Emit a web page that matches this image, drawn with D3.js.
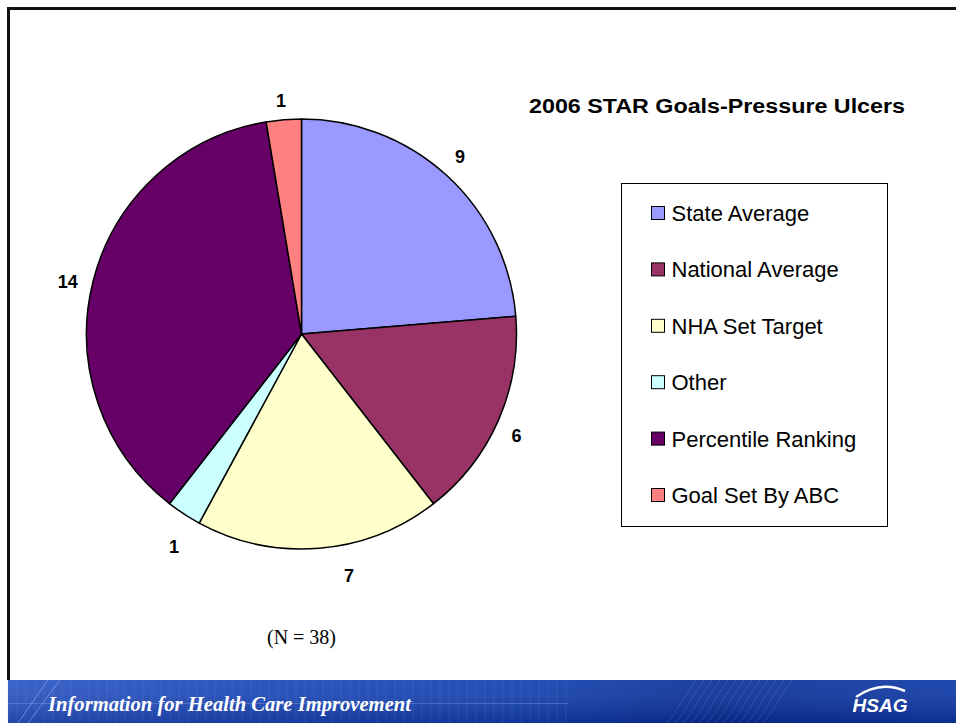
<!DOCTYPE html>
<html>
<head>
<meta charset="utf-8">
<script src="https://cdn.jsdelivr.net/npm/d3@7"></script>
<style>
  body { margin: 0; background: #fff; }
  svg { display: block; }
</style>
</head>
<body>
<svg id="chart" width="956" height="723"></svg>
<script>
const categories = ['State Average', 'National Average', 'NHA Set Target', 'Other', 'Percentile Ranking', 'Goal Set By ABC'];
const counts = [9, 6, 7, 1, 14, 1];
const colors = ['#9999ff', '#993366', '#ffffcc', '#ccffff', '#660066', '#ff8080'];
const title = '2006 STAR Goals-Pressure Ulcers';
const note = '(N = 38)';
const bannerText = 'Information for Health Care Improvement';

const W = 956;
const H = 723;
const cx = 301.5;
const cy = 334;
const radius = 215;

// small hand tweaks so labels land where the slide put them
const labelNudge = [[-2, -3], [-2, 6], [28, 6], [2, 14], [-4, 6], [-1, 3]];

const svg = d3.select('#chart');

// slide frame (left + top edges)
svg.append('path')
  .attr('d', `M8.5,680 L8.5,8.5 L${W},8.5`)
  .attr('fill', 'none')
  .attr('stroke', '#111')
  .attr('stroke-width', 3);

const data = categories.map((c, i) => ({ name: c, value: counts[i], color: colors[i] }));

const pie = d3.pie().sort(null).value(d => d.value);
const arc = d3.arc().innerRadius(0).outerRadius(radius);
const arcs = pie(data);

const g = svg.append('g').attr('transform', `translate(${cx},${cy})`);

g.selectAll('path.slice')
  .data(arcs)
  .enter()
  .append('path')
  .attr('class', 'slice')
  .attr('d', arc)
  .attr('fill', d => d.data.color)
  .attr('stroke', '#000')
  .attr('stroke-width', 1.5)
  .attr('stroke-linejoin', 'round');

// value labels sit just outside the rim
const labelArc = d3.arc().innerRadius(237).outerRadius(237);
g.selectAll('text.val')
  .data(arcs)
  .enter()
  .append('text')
  .attr('class', 'val')
  .attr('x', (d, i) => labelArc.centroid(d)[0] + labelNudge[i][0])
  .attr('y', (d, i) => labelArc.centroid(d)[1] + labelNudge[i][1])
  .attr('dy', '0.35em')
  .attr('text-anchor', 'middle')
  .attr('font-family', 'Liberation Sans, Arial, sans-serif')
  .attr('font-weight', 'bold')
  .attr('font-size', '18px')
  .text(d => d.value);

// title
svg.append('text')
  .attr('x', 717)
  .attr('y', 113)
  .attr('text-anchor', 'middle')
  .attr('font-family', 'Liberation Sans, Arial, sans-serif')
  .attr('font-weight', 'bold')
  .attr('font-size', '20px')
  .attr('textLength', 376)
  .attr('lengthAdjust', 'spacingAndGlyphs')
  .text(title);

// legend
const legend = svg.append('g').attr('transform', 'translate(621.5,183.5)');
legend.append('rect')
  .attr('width', 266)
  .attr('height', 343)
  .attr('fill', '#fff')
  .attr('stroke', '#000')
  .attr('stroke-width', 1);

const rowY = d3.scalePoint().domain(categories).range([29.5, 311.5]);

const rows = legend.selectAll('g.row')
  .data(data)
  .enter()
  .append('g')
  .attr('class', 'row')
  .attr('transform', d => `translate(0,${rowY(d.name)})`);

rows.append('rect')
  .attr('x', 30)
  .attr('y', -6.5)
  .attr('width', 13)
  .attr('height', 13)
  .attr('fill', d => d.color)
  .attr('stroke', '#000')
  .attr('stroke-width', 1);

rows.append('text')
  .attr('x', 50)
  .attr('dy', '0.36em')
  .attr('font-family', 'Liberation Sans, Arial, sans-serif')
  .attr('font-size', '22px')
  .text(d => d.name);

// N note
svg.append('text')
  .attr('x', cx)
  .attr('y', 644)
  .attr('text-anchor', 'middle')
  .attr('font-family', 'Liberation Serif, Times New Roman, serif')
  .attr('font-size', '20px')
  .text(note);

// footer banner
const defs = svg.append('defs');
const grad = defs.append('linearGradient').attr('id', 'bannerGrad')
  .attr('x1', 0).attr('x2', 1).attr('y1', 0).attr('y2', 0);
grad.append('stop').attr('offset', '0%').attr('stop-color', '#2a55c4');
grad.append('stop').attr('offset', '25%').attr('stop-color', '#1b48b8');
grad.append('stop').attr('offset', '55%').attr('stop-color', '#1240b0');
grad.append('stop').attr('offset', '75%').attr('stop-color', '#0a2f96');
grad.append('stop').attr('offset', '100%').attr('stop-color', '#0d39a8');

const vgrad = defs.append('linearGradient').attr('id', 'bannerShade')
  .attr('x1', 0).attr('x2', 0).attr('y1', 0).attr('y2', 1);
vgrad.append('stop').attr('offset', '0%').attr('stop-color', '#ffffff').attr('stop-opacity', 0.08);
vgrad.append('stop').attr('offset', '100%').attr('stop-color', '#000033').attr('stop-opacity', 0.2);

const banner = svg.append('g').attr('transform', 'translate(8,680)');
const bw = W - 8;
const bh = H - 680;
banner.append('rect').attr('width', bw).attr('height', bh).attr('fill', 'url(#bannerGrad)');
banner.append('rect').attr('width', bw).attr('height', bh).attr('fill', 'url(#bannerShade)');

// faint grid texture
const gridX = d3.range(0, 560, 9);
banner.selectAll('line.gx')
  .data(gridX)
  .enter()
  .append('line')
  .attr('x1', d => d).attr('x2', d => d)
  .attr('y1', 0).attr('y2', bh)
  .attr('stroke', '#6f8fe0')
  .attr('stroke-opacity', 0.18)
  .attr('stroke-width', 1);
banner.append('line')
  .attr('x1', 0).attr('x2', 560).attr('y1', 23.5).attr('y2', 23.5)
  .attr('stroke', '#8fa8ee').attr('stroke-opacity', 0.35);
banner.selectAll('line.diag')
  .data(d3.range(660, 760, 8))
  .enter()
  .append('line')
  .attr('x1', d => d).attr('x2', d => d + 28)
  .attr('y1', bh).attr('y2', 0)
  .attr('stroke', '#7a98e8').attr('stroke-opacity', 0.25);
banner.append('path')
  .attr('d', `M10,${bh} L40,0 M20,${bh} L52,0`)
  .attr('stroke', '#a9c0f5').attr('stroke-opacity', 0.5).attr('fill', 'none');

banner.append('text')
  .attr('x', 40)
  .attr('y', 31)
  .attr('font-family', 'Liberation Serif, Times New Roman, serif')
  .attr('font-style', 'italic')
  .attr('font-weight', 'bold')
  .attr('font-size', '22px')
  .attr('fill', '#fff')
  .attr('textLength', 363)
  .attr('lengthAdjust', 'spacingAndGlyphs')
  .text(bannerText);

// HSAG logo
banner.append('path')
  .attr('d', 'M848,17 Q872,0 897,11')
  .attr('fill', 'none')
  .attr('stroke', '#fff')
  .attr('stroke-width', 2.5);
banner.append('text')
  .attr('x', 872)
  .attr('y', 32)
  .attr('text-anchor', 'middle')
  .attr('font-family', 'Liberation Sans, Arial, sans-serif')
  .attr('font-style', 'italic')
  .attr('font-weight', 'bold')
  .attr('font-size', '19px')
  .attr('fill', '#fff')
  .text('HSAG');
</script>
</body>
</html>
